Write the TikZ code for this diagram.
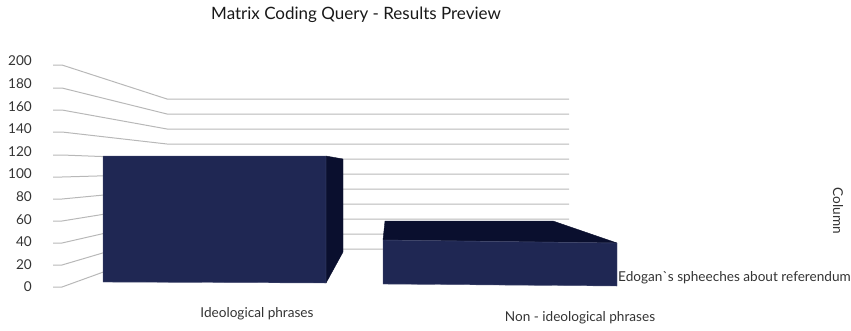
\documentclass[tikz,border=0pt]{standalone}
\usepackage{fontspec}
\setmainfont{Lato}
\definecolor{barfront}{HTML}{1F2753}
\definecolor{barside}{HTML}{0A0F2E}
\definecolor{gridc}{HTML}{B8B8B8}
\definecolor{txt}{HTML}{333333}
\begin{document}
\begin{tikzpicture}[x=1pt,y=-1pt,
  grid/.style={draw=gridc,line width=1pt},
  lbl/.style={font=\fontsize{13.6}{15}\selectfont,text=txt,inner sep=0pt},
  ticklbl/.style={lbl,anchor=east},
  front/.style={fill=barfront,draw=barfront!80!white,line width=0.4pt,line join=round},
  side/.style={fill=barside,draw=barside,line width=0.4pt,line join=round}]
\useasboundingbox (0,0) rectangle (851,330);
% title
\node[font=\fontsize{17}{19}\selectfont,text=black!90,inner sep=0pt] (title) at (356,15) {Matrix Coding Query - Results Preview};
% grid lines and labels
\foreach \v/\yl/\yb/\yt in {200/65/99/61,180/88/114/83.6,160/110/129/106.2,140/132/144/128.8,120/155/159/151.4,100/177/174/174,80/199/189/196.6,60/221/204/219.2,40/243/219/241.8,20/265/234/264.4,0/287/249/287}{
  \draw[grid] (53,\yl) -- (62,\yl) -- (167,\yb) -- (569,\yb);
  \node[ticklbl] (t\v) at (32,\yt) {\v};
}
% bar 1
\fill[side] (326,156) -- (343,159) -- (343,252) -- (326,283) -- cycle;
\fill[front] (103,156) -- (326,156) -- (326,283) -- (103,282) -- cycle;
% bar 2
\fill[side] (385,221) -- (553,221) -- (617,243) -- (383,240) -- cycle;
\fill[front] (383,240) -- (617,243) -- (617,286) -- (383,284) -- cycle;
% labels
\node[lbl] (cat1) at (257,314) {Ideological phrases};
\node[lbl] (cat2) at (580,318) {Non - ideological phrases};
\node[lbl,anchor=west] (ser) at (618,278) {Edogan\textasciigrave s spheeches about referendum};
\node[lbl,rotate=-90] (col) at (838,211) {Column};
\end{tikzpicture}
\end{document}
